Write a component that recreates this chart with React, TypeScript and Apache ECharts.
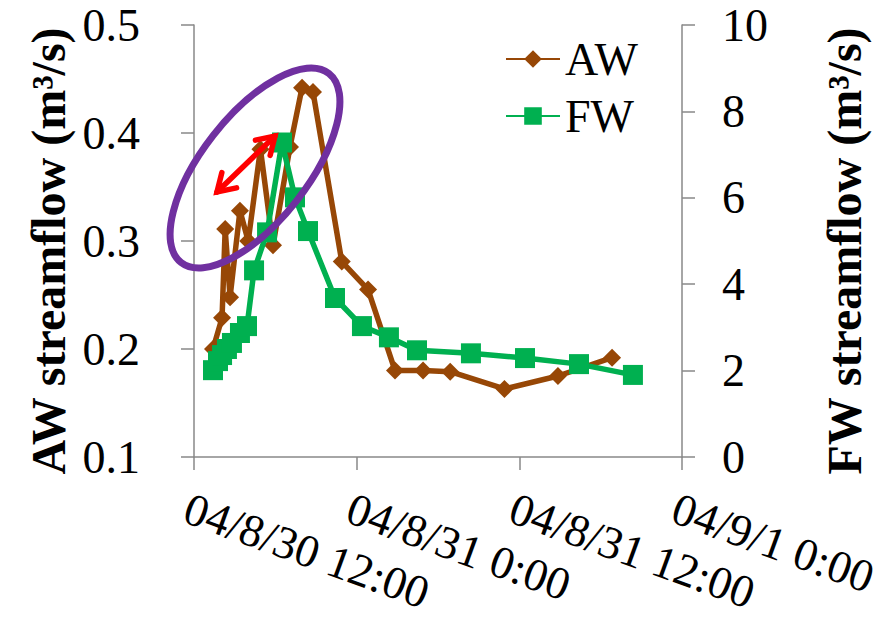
import React, { useEffect, useRef } from 'react';
import * as echarts from 'echarts';

// x tick labels (every 12 h starting 2004/8/30 12:00)
const xTickLabels = ['04/8/30 12:00', '04/8/31 0:00', '04/8/31 12:00', '04/9/1 0:00'];

// hours since 2004/8/30 12:00
const awHours = [1.4, 2.07, 2.3, 2.66, 3.39, 4.0, 4.9, 5.83, 7.08, 7.97, 8.78, 10.9, 12.84, 14.83, 16.9, 18.9, 22.9, 26.85, 30.84];
const awFlow = [0.2, 0.229, 0.311, 0.248, 0.328, 0.3, 0.385, 0.296, 0.387, 0.442, 0.438, 0.281, 0.255, 0.18, 0.18, 0.179, 0.163, 0.175, 0.192];

const fwHours = [1.4, 1.77, 2.07, 2.43, 2.8, 3.39, 3.91, 4.43, 5.39, 6.49, 7.45, 8.41, 10.4, 12.39, 14.38, 16.45, 20.43, 24.42, 28.4, 32.38];
const fwFlow = [2.01, 2.22, 2.36, 2.5, 2.64, 2.87, 3.03, 4.32, 5.2, 7.28, 6.01, 5.23, 3.68, 3.03, 2.77, 2.47, 2.4, 2.29, 2.15, 1.9];

const SERIF = 'Liberation Serif';
const AXIS_GRAY = '#898989';

function arrowHead(tip: number[], from: number[], len: number, ang: number) {
  const dx = from[0] - tip[0];
  const dy = from[1] - tip[1];
  const L = Math.hypot(dx, dy);
  const ux = dx / L;
  const uy = dy / L;
  const a = (ang * Math.PI) / 180;
  const p1 = [tip[0] + len * (ux * Math.cos(a) - uy * Math.sin(a)), tip[1] + len * (ux * Math.sin(a) + uy * Math.cos(a))];
  const p2 = [tip[0] + len * (ux * Math.cos(-a) - uy * Math.sin(-a)), tip[1] + len * (ux * Math.sin(-a) + uy * Math.cos(-a))];
  return [p1, tip, p2];
}

export default function App() {
  const ref = useRef<HTMLDivElement>(null);
  useEffect(() => {
    const chart = echarts.init(ref.current!, null, { renderer: 'svg' });
    const arrowA = [217, 192];
    const arrowB = [275, 136];
    const titleStyle = {
      fontFamily: SERIF,
      fontSize: 48,
      fontWeight: 'bold',
      fill: '#000',
      align: 'center',
      verticalAlign: 'middle',
      textAlign: 'center',
      textVerticalAlign: 'middle',
    };
    const option: any = {
      animation: false,
      backgroundColor: '#ffffff',
      textStyle: { fontFamily: SERIF },
      grid: { left: 194, right: 212, top: 25, bottom: 163, containLabel: false, outerBoundsMode: 'none' },
      legend: {
        orient: 'vertical',
        left: 500,
        top: 31,
        itemWidth: 54,
        itemHeight: 22,
        itemGap: 11,
        textStyle: { fontFamily: SERIF, fontSize: 46, color: '#000' },
        data: ['AW', 'FW'],
      },
      xAxis: {
        type: 'value',
        min: 0,
        max: 36,
        interval: 12,
        splitLine: { show: false },
        axisLine: { show: true, lineStyle: { color: AXIS_GRAY, width: 1.5 } },
        axisTick: { show: true, inside: false, length: 13, lineStyle: { color: AXIS_GRAY, width: 1.5 } },
        axisLabel: {
          show: true,
          rotate: -20,
          align: 'left',
          verticalAlign: 'top',
          margin: 28,
          fontFamily: SERIF,
          fontSize: 46,
          color: '#000',
          hideOverlap: false,
          formatter: (v: number) => xTickLabels[Math.round(v / 12)] ?? '',
        },
      },
      yAxis: [
        {
          type: 'value',
          position: 'left',
          min: 0.1,
          max: 0.5,
          interval: 0.1,
          splitLine: { show: false },
          axisLine: { show: true, lineStyle: { color: AXIS_GRAY, width: 1.5 } },
          axisTick: { show: true, inside: false, length: 13, lineStyle: { color: AXIS_GRAY, width: 1.5 } },
          axisLabel: {
            margin: 54,
            fontFamily: SERIF,
            fontSize: 46,
            color: '#000',
            formatter: (v: number) => v.toFixed(1),
          },
        },
        {
          type: 'value',
          position: 'right',
          min: 0,
          max: 10,
          interval: 2,
          splitLine: { show: false },
          axisLine: { show: true, lineStyle: { color: AXIS_GRAY, width: 1.5 } },
          axisTick: { show: true, inside: false, length: 13, lineStyle: { color: AXIS_GRAY, width: 1.5 } },
          axisLabel: {
            margin: 40,
            fontFamily: SERIF,
            fontSize: 46,
            color: '#000',
          },
        },
      ],
      series: [
        {
          name: 'AW',
          type: 'line',
          yAxisIndex: 0,
          data: awHours.map((h, i) => [h, awFlow[i]]),
          symbol: 'diamond',
          symbolSize: 18,
          lineStyle: { color: '#974706', width: 5.5 },
          itemStyle: { color: '#974706' },
          z: 2,
        },
        {
          name: 'FW',
          type: 'line',
          yAxisIndex: 1,
          data: fwHours.map((h, i) => [h, fwFlow[i]]),
          symbol: 'rect',
          symbolSize: 20,
          lineStyle: { color: '#00B050', width: 5.5 },
          itemStyle: { color: '#00B050' },
          z: 3,
        },
      ],
      graphic: [
        {
          type: 'text',
          x: 48,
          y: 251,
          rotation: Math.PI / 2,
          style: { ...titleStyle, text: 'AW streamflow (m³/s)' },
        },
        {
          type: 'text',
          x: 844,
          y: 251,
          rotation: Math.PI / 2,
          style: { ...titleStyle, text: 'FW streamflow (m³/s)' },
        },
        {
          type: 'ellipse',
          x: 255,
          y: 168,
          rotation: (52 * Math.PI) / 180,
          shape: { cx: 0, cy: 0, rx: 120, ry: 53 },
          style: { fill: 'none', stroke: '#7030A0', lineWidth: 7 },
          z: 100,
        },
        {
          type: 'line',
          shape: { x1: arrowA[0], y1: arrowA[1], x2: arrowB[0], y2: arrowB[1] },
          style: { stroke: '#FF0000', lineWidth: 5.5, lineCap: 'round' },
          z: 101,
        },
        {
          type: 'polyline',
          shape: { points: arrowHead(arrowB, arrowA, 20, 32) },
          style: { fill: 'none', stroke: '#FF0000', lineWidth: 5.5, lineCap: 'round', lineJoin: 'miter' },
          z: 101,
        },
        {
          type: 'polyline',
          shape: { points: arrowHead(arrowA, arrowB, 20, 32) },
          style: { fill: 'none', stroke: '#FF0000', lineWidth: 5.5, lineCap: 'round', lineJoin: 'miter' },
          z: 101,
        },
      ],
    };
    chart.setOption(option);
    return () => chart.dispose();
  }, []);
  return (
    <div
      ref={ref}
      style={{ position: 'absolute', left: 0, top: 0, width: 894, height: 620, background: '#fff' }}
    />
  );
}
